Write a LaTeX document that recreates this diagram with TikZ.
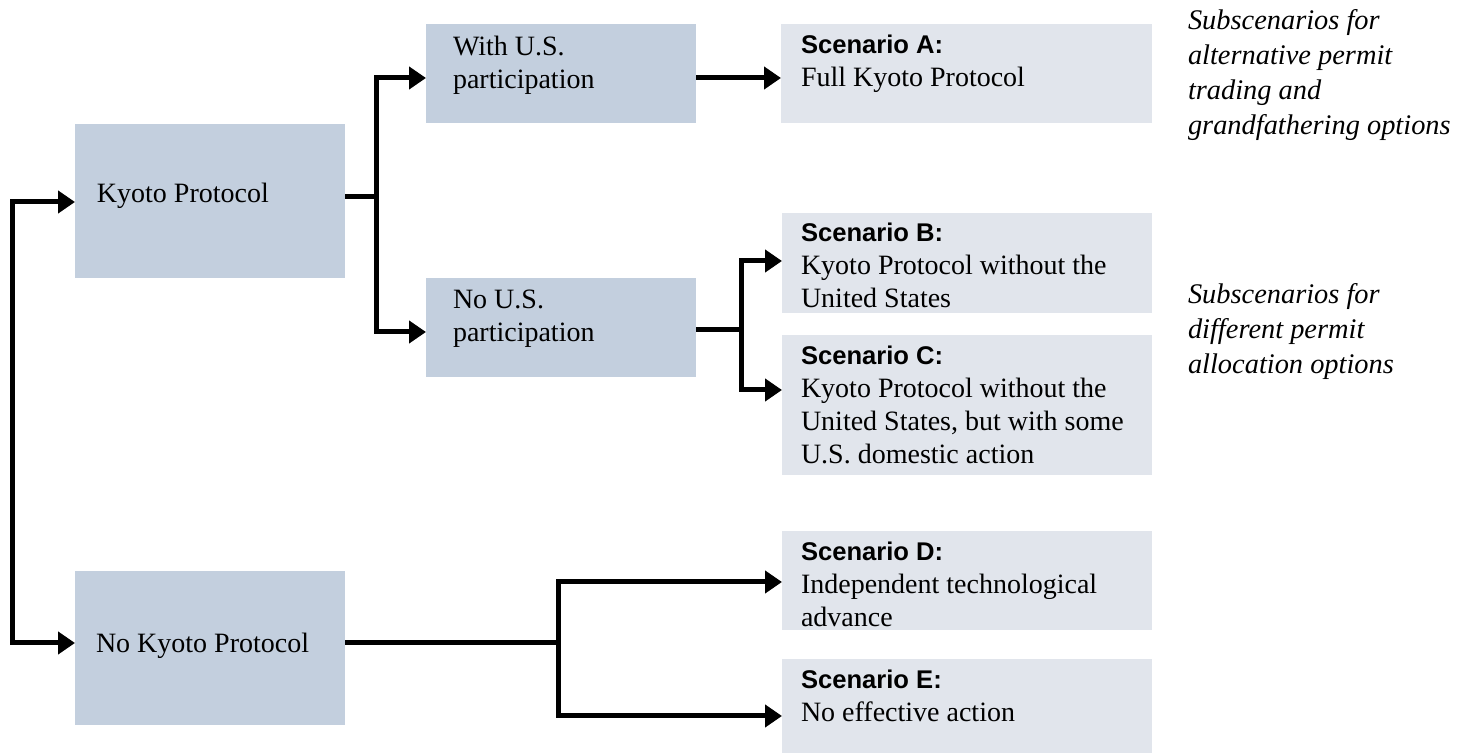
\documentclass[tikz,border=0pt]{standalone}
\usepackage{fontspec}
\setmainfont{Liberation Serif}
\setsansfont{Liberation Sans}
\usetikzlibrary{arrows.meta}
\definecolor{boxdark}{RGB}{195,207,222}
\definecolor{boxlight}{RGB}{225,229,236}
\newcommand{\scenlab}[1]{{\sffamily\bfseries\fontsize{12.8pt}{16.5pt}\selectfont #1}}
\begin{document}
\begin{tikzpicture}[x=0.5pt,y=-0.5pt,
  dbox/.style={fill=boxdark, draw=none, anchor=north west, inner sep=0pt, outer sep=0pt},
  lbox/.style={fill=boxlight, draw=none, anchor=north west, inner sep=0pt, outer sep=0pt},
  txt/.style={inner sep=0pt, outer sep=0pt, align=left, anchor=north west,
    font=\fontsize{14pt}{16.5pt}\selectfont},
  note/.style={inner sep=0pt, outer sep=0pt, align=left, anchor=north west,
    font=\itshape\fontsize{14.2pt}{17.5pt}\selectfont},
  conn/.style={line width=2.5pt},
  arr/.style={line width=2.5pt, -{Triangle[length=8.5pt,width=11pt]}},
  dbl/.style={line width=2.5pt, {Triangle[length=8.5pt,width=11pt]}-{Triangle[length=8.5pt,width=11pt]}},
]
\useasboundingbox (0,0) rectangle (1458,753);

% dark boxes
\node[dbox, minimum width=135pt, minimum height=77pt] (kyoto) at (75,124) {};
\node[dbox, minimum width=135pt, minimum height=77pt] (nokyoto) at (75,571) {};
\node[dbox, minimum width=135pt, minimum height=49.5pt] (withus) at (426,24) {};
\node[dbox, minimum width=135pt, minimum height=49.5pt] (nous) at (426,278) {};

% light boxes
\node[lbox, minimum width=185.5pt, minimum height=49.5pt] (scA) at (781,24) {};
\node[lbox, minimum width=185pt, minimum height=50pt] (scB) at (782,213) {};
\node[lbox, minimum width=185pt, minimum height=70pt] (scC) at (782,335) {};
\node[lbox, minimum width=185pt, minimum height=49.5pt] (scD) at (782,531) {};
\node[lbox, minimum width=185pt, minimum height=47pt] (scE) at (782,659) {};

% texts
\node[txt, anchor=west] (kyotoT) at (97,196) {Kyoto Protocol};
\node[txt, anchor=west] (nokyotoT) at (96,646) {No Kyoto Protocol};
\node[txt] (withusT) at (453,36) {With U.S.\\participation};
\node[txt] (nousT) at (453,290) {No U.S.\\participation};
\node[txt] (scAT) at (801,35) {\scenlab{Scenario A:}\\Full Kyoto Protocol};
\node[txt] (scBT) at (801,223) {\scenlab{Scenario B:}\\Kyoto Protocol without the\\United States};
\node[txt] (scCT) at (801,346) {\scenlab{Scenario C:}\\Kyoto Protocol without the\\United States, but with some\\U.S. domestic action};
\node[txt] (scDT) at (801,542) {\scenlab{Scenario D:}\\Independent technological\\advance};
\node[txt] (scET) at (801,670) {\scenlab{Scenario E:}\\No effective action};

\node[note] (note1) at (1188,10) {Subscenarios for\\alternative permit\\trading and\\grandfathering options};
\node[note] (note2) at (1188,284) {Subscenarios for\\different permit\\allocation options};

% connectors
\coordinate (railtop) at (12,202);
\coordinate (railbot) at (12,643);
\draw[dbl] (kyoto.west |- railtop) -- (railtop) -- (railbot) -- (nokyoto.west |- railbot);

\coordinate (kj) at (376,197);
\coordinate (ka) at (376,78);
\coordinate (kb) at (376,332);
\draw[dbl] (withus.west |- ka) -- (ka) -- (kb) -- (nous.west |- kb);
\draw[conn] (kyoto.east |- kj) -- (kj);

\draw[arr] (withus.east |- ka) -- (scA.west |- ka);

\coordinate (nj) at (741,330);
\coordinate (nb) at (741,261);
\coordinate (nc) at (741,390);
\draw[dbl] (scB.west |- nb) -- (nb) -- (nc) -- (scC.west |- nc);
\draw[conn] (nous.east |- nj) -- (nj);

\coordinate (mj) at (558,643);
\coordinate (md) at (558,582);
\coordinate (me) at (558,716);
\draw[dbl] (scD.west |- md) -- (md) -- (me) -- (scE.west |- me);
\draw[conn] (nokyoto.east |- mj) -- (mj);
\end{tikzpicture}
\end{document}
